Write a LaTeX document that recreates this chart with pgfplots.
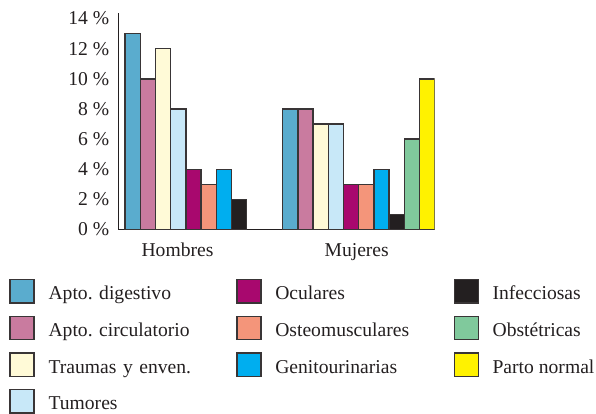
\documentclass[border=0pt]{standalone}
\usepackage{fontspec}
\setmainfont{Liberation Serif}
\usepackage{pgfplots}
\pgfplotsset{compat=1.18}

\definecolor{cDig}{RGB}{90,172,206}
\definecolor{cCir}{RGB}{201,123,159}
\definecolor{cTra}{RGB}{255,250,215}
\definecolor{cTum}{RGB}{200,232,248}
\definecolor{cOcu}{RGB}{168,8,110}
\definecolor{cOst}{RGB}{244,149,122}
\definecolor{cGen}{RGB}{0,174,239}
\definecolor{cInf}{RGB}{35,31,32}
\definecolor{cObs}{RGB}{128,201,156}
\definecolor{cPar}{RGB}{255,242,0}
\definecolor{ink}{RGB}{35,31,32}

\newcommand{\lblfont}{\fontsize{19.6}{23}\selectfont\frenchspacing}

\pgfplotsset{
  cat/.style={ybar, bar shift=0pt, bar width=15.2, fill=#1,
    draw=ink!90, line width=1.4pt,
    legend image code/.code={\draw[fill=#1, draw=ink!90, line width=1.4pt]
      (0pt,-7.7pt) rectangle (24pt,15.6pt);}},
}

\begin{document}
\begin{tikzpicture}
\begin{axis}[
  scale only axis, width=316.4pt, height=216.8pt,
  xmin=118.3, xmax=434.7, ymin=0, ymax=14.39,
  axis x line*=bottom, axis y line*=left,
  axis line style={-, line width=1.2pt, draw=ink},
  major tick length=0pt,
  xtick={177.5,356.7}, xticklabels={Hombres,Mujeres},
  ytick={0,2,...,14},
  yticklabels={0 \%,2 \%,4 \%,6 \%,8 \%,10 \%,12 \%,14 \%},
  tick label style={font=\lblfont, text=ink},
  yticklabel style={inner sep=0pt, xshift=-9pt},
  xticklabel style={inner sep=0pt, yshift=-13.5pt},
  legend columns=3,
  legend cell align=left,
  legend style={at={(-0.3445,-0.227)}, anchor=north west,
    draw=none, fill=none, inner sep=0pt, font=\lblfont, text=ink,
    row sep=12pt,
    nodes={inner sep=0pt, text height=12pt, text depth=3pt},
    /tikz/every odd column/.append style={column sep=13.7pt},
    /tikz/column 2/.append style={nodes={text width=187.6pt, align=left}},
    /tikz/column 4/.append style={nodes={text width=178.2pt, align=left}},
  },
]
% legend is filled row by row: three columns of categories
\addplot[cat=cDig] coordinates {(132.6,13) (290.3,8)};
\addlegendentry{Apto. digestivo}
\addplot[cat=cOcu] coordinates {(193.4,4) (351.1,3)};
\addlegendentry{Oculares}
\addplot[cat=cInf] coordinates {(239.0,2) (396.7,1)};
\addlegendentry{Infecciosas}
\addplot[cat=cCir] coordinates {(147.8,10) (305.5,8)};
\addlegendentry{Apto. circulatorio}
\addplot[cat=cOst] coordinates {(208.6,3) (366.3,3)};
\addlegendentry{Osteomusculares}
\addplot[cat=cObs] coordinates {(411.9,6)};
\addlegendentry{Obstétricas}
\addplot[cat=cTra] coordinates {(163.0,12) (320.7,7)};
\addlegendentry{Traumas y enven.}
\addplot[cat=cGen] coordinates {(223.8,4) (381.5,4)};
\addlegendentry{Genitourinarias}
\addplot[cat=cPar] coordinates {(427.1,10)};
\addlegendentry{Parto normal}
\addplot[cat=cTum] coordinates {(178.2,8) (335.9,7)};
\addlegendentry{Tumores}
\end{axis}
\pgfresetboundingbox
\useasboundingbox ([shift={(-118.3pt,-183.5pt)}]current axis.south west)
  rectangle ([shift={(477.7pt,229.5pt)}]current axis.south west);
\end{tikzpicture}
\end{document}
